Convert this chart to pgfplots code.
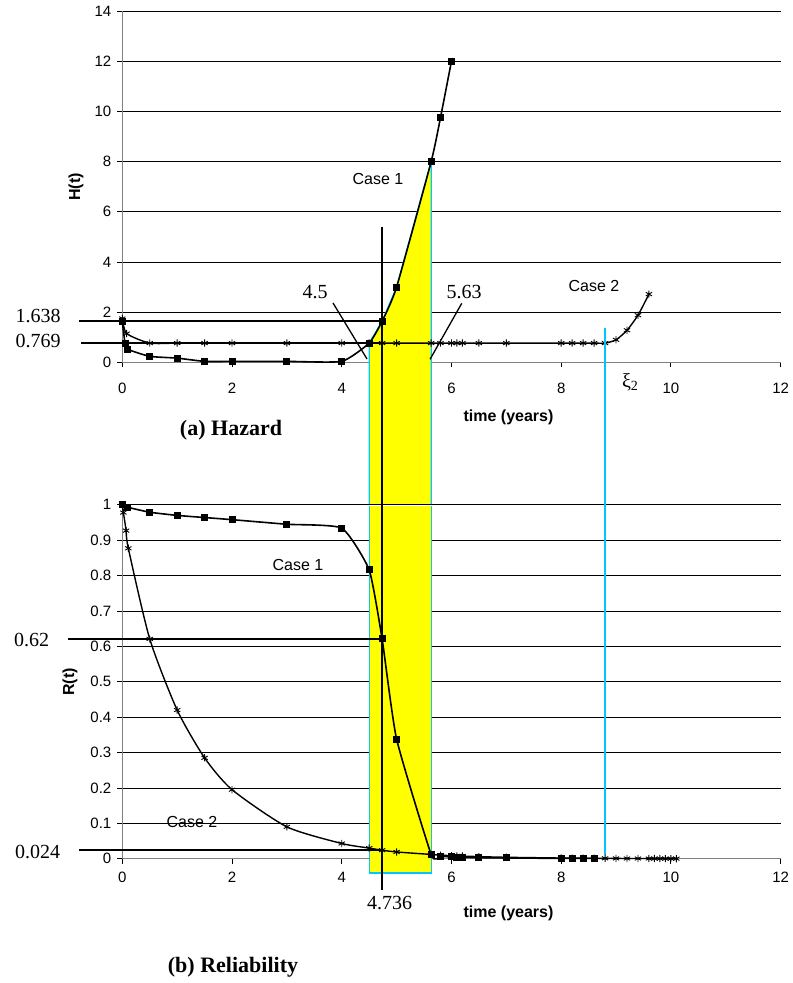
\documentclass[border=0pt]{standalone}
\usepackage{fontspec}
\setmainfont{Liberation Sans}
\newfontfamily\serif{Liberation Serif}
\usepackage{pgfplots}
\pgfplotsset{compat=1.18}
\definecolor{skyb}{RGB}{0,200,255}
\definecolor{ylw}{RGB}{255,255,0}

\pgfplotstableread{
x y
0 1.638
0.05 0.75
0.1 0.52
0.5 0.24
1 0.17
1.5 0.04
2 0.04
3 0.04
4 0.04
4.5 0.769
4.736 1.638
5 3.0
5.63 8.0
5.8 9.75
6 12.0
}\HcaseA

\pgfplotstableread{
x y
0 1.75
0.08 1.15
0.5 0.769
1 0.769
1.5 0.769
2 0.769
3 0.769
4 0.769
4.5 0.769
4.736 0.769
5 0.769
5.63 0.769
5.8 0.769
6 0.769
6.1 0.769
6.2 0.769
6.5 0.769
7 0.769
8 0.769
8.2 0.769
8.4 0.769
8.6 0.769
8.8 0.769
9.0 0.9
9.2 1.28
9.4 1.88
9.6 2.72
}\HcaseB

\pgfplotstableread{
x y
0 1.0
0.1 0.993
0.5 0.979
1 0.970
1.5 0.964
2 0.958
3 0.945
4 0.934
4.5 0.816
4.736 0.621
5 0.338
5.63 0.012
5.8 0.007
6 0.005
6.1 0.004
6.2 0.004
6.5 0.003
7 0.002
8 0.001
8.2 0.001
8.4 0.001
8.6 0.001
}\RcaseA

\pgfplotstableread{
x y
0 1.0
0.02 0.978
0.07 0.927
0.11 0.877
0.5 0.621
1 0.42
1.5 0.285
2 0.195
3 0.09
4 0.043
4.5 0.03
4.736 0.024
5 0.019
5.63 0.012
5.8 0.010
6 0.0086
6.1 0.008
6.2 0.0074
6.5 0.0059
7 0.004
8 0.0019
8.2 0.0016
8.4 0.0014
8.6 0.0012
8.8 0.001
9.0 0.0008
9.2 0.0006
9.4 0.0005
9.6 0.0004
9.7 0.0003
9.8 0.0003
9.9 0.0002
10.0 0.0002
10.1 0.0001
}\RcaseB

\pgfplotsset{
  myax/.style={
    scale only axis, width=658.3bp, clip=false,
    anchor=south west,
    axis lines=left, axis line style={draw=gray, line width=1.2bp, -},
    xmin=0, xmax=12, xtick={0,2,...,12},
    tick align=outside, major tick length=5bp,
    tick style={black, line width=0.8bp},
    ymajorgrids, major grid style={black, line width=0.8bp},
    ticklabel style={font=\fontsize{15bp}{15bp}\selectfont},
    /pgf/number format/assume math mode=true,
    yticklabel style={xshift=-2.5bp},
  },
  c1/.style={black, line width=1.6bp, smooth, tension=0.3, mark=square*, mark size=2.7bp, mark options={solid}},
  c2/.style={black, line width=1.4bp, smooth, tension=0.4, mark=asterisk, mark size=3.6bp, mark options={solid, line width=0.9bp}},
}

\newcommand{\lab}[1]{\fontsize{#1}{#1}\selectfont}

\begin{document}
\begin{tikzpicture}
\path[use as bounding box] (0,0) rectangle (793bp,983bp);

% ---------- (a) Hazard ----------
\begin{axis}[myax, at={(122.3bp,620.6bp)}, height=351.4bp,
  ymin=0, ymax=14, ytick={0,2,...,14},
  xticklabel style={yshift=-12bp}]
  \addplot[fill=ylw, draw=skyb, line width=1.3bp] coordinates {(4.5,-5.66) (4.5,0.769) (4.736,1.638) (5,3) (5.63,8) (5.63,-5.66)};
  \draw[black, line width=1.8bp] (-0.789,1.638) -- (4.736,1.638);
  \draw[black, line width=1.8bp] (-0.753,0.769) -- (4.736,0.769);
  \addplot[c1] table {\HcaseA};
  \addplot[c2] table {\HcaseB};
  \draw[black, line width=1.3bp] (3.841,2.367) -- (4.461,0.135);
  \draw[black, line width=1.3bp] (6.188,2.355) -- (5.610,0.124);
\end{axis}

% ---------- (b) Reliability ----------
\begin{axis}[myax, at={(122.3bp,124.3bp)}, height=353.9bp,
  ymin=0, ymax=1, ytick={0,0.1,0.2,0.3,0.4,0.5,0.6,0.7,0.8,0.9,1},
  xticklabel style={yshift=-5bp}]
  \addplot[fill=ylw, draw=skyb, line width=1.3bp] coordinates {(4.5,0.997) (4.5,-0.0404) (5.63,-0.0404) (5.63,0.997)};
  \draw[black, line width=1.8bp] (-0.99,0.62) -- (4.736,0.62);
  \draw[black, line width=1.8bp] (-0.79,0.024) -- (4.736,0.024);
  \addplot[c1] table {\RcaseA};
  \addplot[c2] table {\RcaseB};
  \draw[black, line width=1.8bp] (4.736,1.785) -- (4.736,-0.088);
  \draw[skyb, line width=1.8bp] (8.8,1.499) -- (8.8,0.0105);
\end{axis}

% ---------- texts ----------
\node[rotate=90, font=\bfseries\lab{16bp}] at (76bp,796bp) {H(t)};
\node[font=\bfseries\lab{16bp}] at (508.5bp,565.7bp) {time (years)};
\node[font=\serif\bfseries\lab{22bp}] at (231bp,553bp) {(a) Hazard};
\node[font=\serif\lab{20bp}] at (38bp,666.7bp) {1.638};
\node[font=\serif\lab{20bp}] at (38bp,641.7bp) {0.769};
\node[font=\serif\lab{20bp}] at (315bp,690.5bp) {4.5};
\node[font=\serif\lab{20bp}] at (464bp,691bp) {5.63};
\node[font=\lab{16bp}] at (378bp,804bp) {Case 1};
\node[font=\lab{16bp}] at (594bp,697bp) {Case 2};
\node[font=\serif\lab{20bp}] at (630bp,601bp) {ξ\raisebox{-3bp}{\lab{14bp}2}};

\node[rotate=90, font=\bfseries\lab{16bp}] at (70bp,301bp) {R(t)};
\node[font=\lab{16bp}] at (298bp,418bp) {Case 1};
\node[font=\lab{16bp}] at (192bp,161bp) {Case 2};
\node[font=\serif\lab{20bp}] at (31.7bp,343bp) {0.62};
\node[font=\serif\lab{20bp}] at (37.5bp,131.3bp) {0.024};
\node[font=\serif\lab{20bp}] at (389.5bp,80bp) {4.736};
\node[font=\bfseries\lab{16bp}] at (508.5bp,70bp) {time (years)};
\node[font=\serif\bfseries\lab{22bp}] at (233bp,16bp) {(b) Reliability};
\end{tikzpicture}
\end{document}
